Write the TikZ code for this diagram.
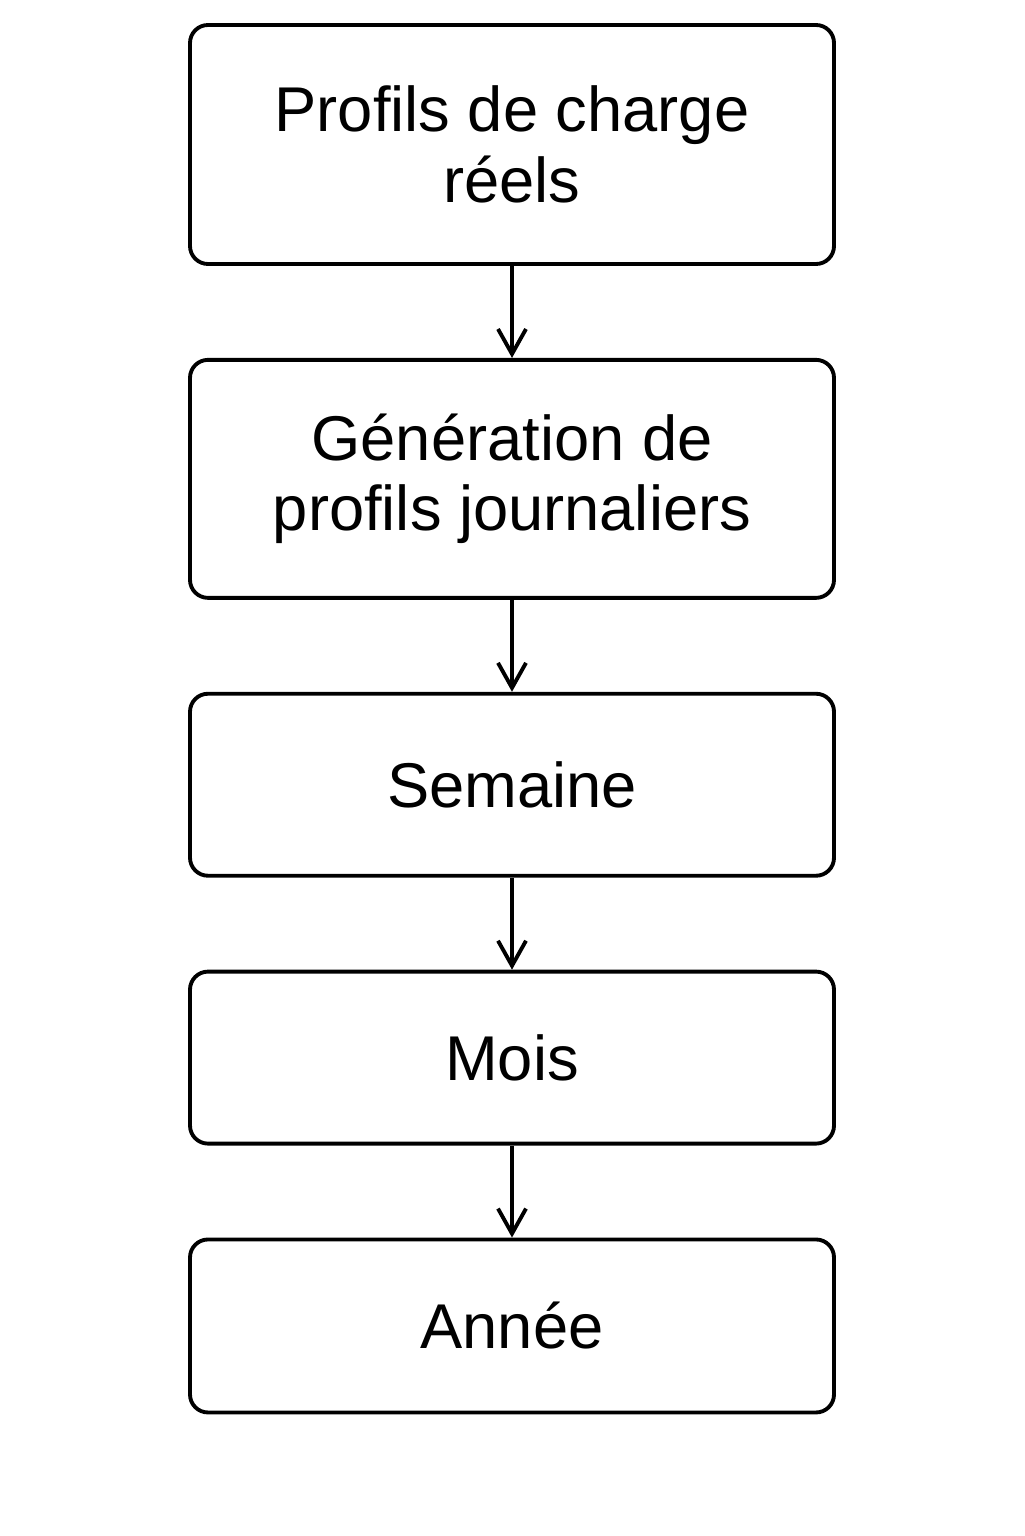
\documentclass[tikz,border=0pt]{standalone}
\usepackage{fontspec}
\setmainfont{Liberation Sans}
\usetikzlibrary{positioning,arrows.meta}

\begin{document}
\begin{tikzpicture}[node distance = 1.84cm,
    every node/.style = {shape = rectangle, draw, rounded corners = 0.36cm, line width = 2.2pt,
        minimum width = 12.88cm, align = center, font = \fontsize{36}{40}\selectfont},
    flow/.style = {line width = 2.2pt, -{Straight Barb[length = 0.5cm, width = 0.56cm]}}]
        \useasboundingbox (0,0) rectangle (20.48,-30.72);
        \node[minimum height = 4.78cm] (profils) at (10.24,-2.89) {Profils de charge\\réels};
        \node[minimum height = 4.76cm, below = of profils] (generation) {Génération de\\profils journaliers};
        \node[minimum height = 3.64cm, below = of generation] (semaine) {Semaine};
        \node[minimum height = 3.44cm, below = of semaine] (mois) {Mois};
        \node[minimum height = 3.46cm, below = of mois] (annee) {Année};
        \draw[flow] (profils) -- (generation);
        \draw[flow] (generation) -- (semaine);
        \draw[flow] (semaine) -- (mois);
        \draw[flow] (mois) -- (annee);
\end{tikzpicture}
\end{document}
